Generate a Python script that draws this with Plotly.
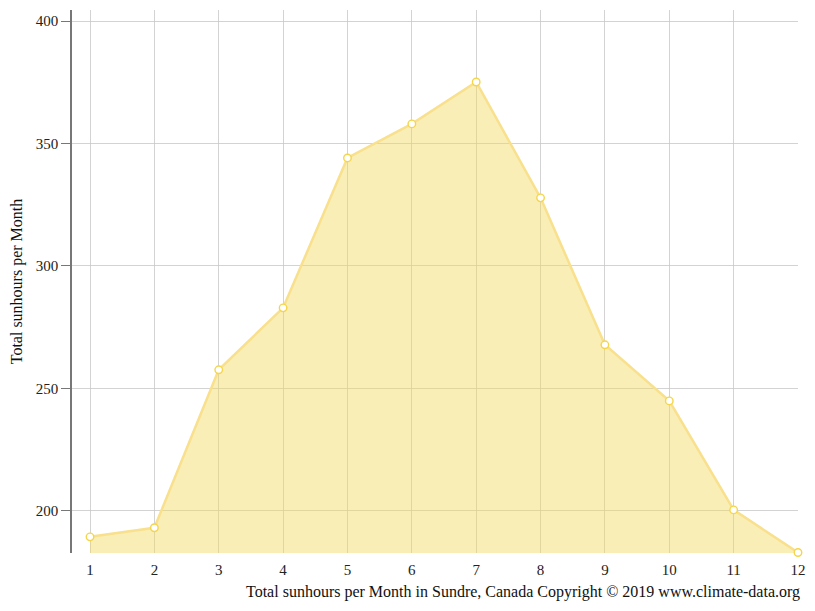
import plotly.graph_objects as go

# monthly sunshine hours, Sundre
months = [1, 2, 3, 4, 5, 6, 7, 8, 9, 10, 11, 12]
sunhours = [189.4, 193.1, 257.6, 282.9, 344.1, 358.0, 375.1, 327.8, 267.8, 244.9, 200.4, 183.0]
y_ticks = [200, 250, 300, 350, 400]

FONT = "Liberation Serif, Times New Roman, serif"
GRID = "rgba(200,200,200,0.8)"

fig = go.Figure()
fig.add_trace(go.Scatter(
    x=months,
    y=sunhours,
    mode="lines+markers",
    fill="tozeroy",
    fillcolor="rgba(245, 218, 95, 0.45)",
    line=dict(color="rgba(248, 224, 140, 1)", width=2.5),
    marker=dict(size=7.5, color="white", line=dict(color="#f5d54a", width=1.4)),
    cliponaxis=False,
    hoverinfo="x+y",
))

# page body has an 8px margin, so the figure is shrunk by that much
fig.update_layout(
    width=799, height=595,
    margin=dict(l=64, r=9, t=2, b=50),
    paper_bgcolor="white",
    plot_bgcolor="white",
    showlegend=False,
    font=dict(family=FONT, size=15, color="#222"),
    xaxis=dict(
        range=[0.72, 12],
        tickvals=months,
        showgrid=True, gridcolor=GRID, gridwidth=1,
        zeroline=False, showline=False, ticks="outside",
        ticklen=3, tickcolor="rgba(0,0,0,0)",
        tickfont=dict(family=FONT, size=15, color="#222"),
    ),
    yaxis=dict(
        range=[182.8, 404.5],
        tickvals=y_ticks,
        showgrid=True, gridcolor=GRID, gridwidth=1,
        zeroline=False, showline=True, linecolor="#777", linewidth=1.5,
        ticks="outside", ticklen=9, tickcolor="#777",
        tickfont=dict(family=FONT, size=15, color="#222"),
        title=dict(text="Total sunhours per Month", font=dict(family=FONT, size=16, color="#111"), standoff=10),
    ),
    annotations=[dict(
        text="Total sunhours per Month in Sundre, Canada Copyright © 2019 www.climate-data.org",
        xref="paper", yref="paper", x=1.0055, y=-0.0718,
        xanchor="right", yanchor="middle", showarrow=False,
        font=dict(family=FONT, size=16, color="#111"),
    )],
)

fig.write_html("out.html")
